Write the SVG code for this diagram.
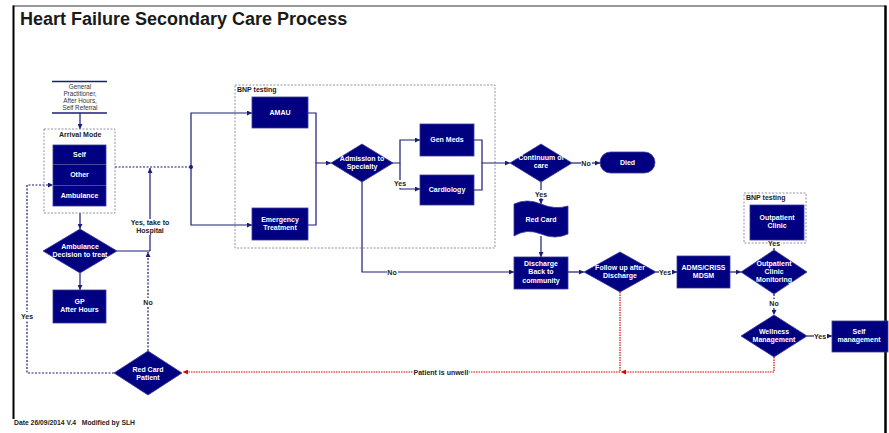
<svg xmlns="http://www.w3.org/2000/svg" width="889" height="433" viewBox="0 0 889 433">
<defs>
<marker id="ah" viewBox="0 0 10 10" refX="10" refY="5" markerWidth="5" markerHeight="5" orient="auto" markerUnits="userSpaceOnUse">
<path d="M0,0 L10,5 L0,10 z" fill="#1c1c7a"/>
</marker>
<marker id="ahr" viewBox="0 0 10 10" refX="10" refY="5" markerWidth="5" markerHeight="5" orient="auto" markerUnits="userSpaceOnUse">
<path d="M0,0 L10,5 L0,10 z" fill="#e00000"/>
</marker>
<style>
.box{fill:#000080;stroke:#3a3a9a;stroke-width:0.8}
.t{font-family:"Liberation Sans",Arial,sans-serif;font-size:7px;font-weight:bold;fill:#ffffff;text-anchor:middle}
.l{font-family:"Liberation Sans",Arial,sans-serif;font-size:7px;font-weight:bold;fill:#222222}
.lc{font-family:"Liberation Sans",Arial,sans-serif;font-size:7px;font-weight:bold;fill:#222222;text-anchor:middle}
.c{fill:none;stroke:#1c1c7a;stroke-width:1.2}
.cd{fill:none;stroke:#1c1c7a;stroke-width:1.2;stroke-dasharray:2,1.5}
.cr{fill:none;stroke:#e00000;stroke-width:1.2;stroke-dasharray:1.5,1}
.grp{fill:none;stroke:#777788;stroke-width:0.8;stroke-dasharray:2,1.5}
.bg{fill:#ffffff}
</style>
</defs>
<rect x="0" y="0" width="889" height="433" fill="#ffffff"/>
<!-- frame -->
<line x1="13" y1="6" x2="886" y2="6" stroke="#333333" stroke-width="1.2"/>
<line x1="13.5" y1="5.5" x2="13.5" y2="419" stroke="#000000" stroke-width="2"/>
<line x1="885.5" y1="5.5" x2="885.5" y2="433" stroke="#000000" stroke-width="2.5"/>
<text x="20" y="25" font-family="'Liberation Sans',Arial,sans-serif" font-size="18" font-weight="bold" fill="#1a1a1a">Heart Failure Secondary Care Process</text>
<text x="14" y="425" font-family="'Liberation Sans',Arial,sans-serif" font-size="6.8" font-weight="bold" fill="#222222" xml:space="preserve">Date 26/09/2014 V.4   Modified by SLH</text>

<!-- group containers -->
<g id="bnp-group">
<rect class="grp" x="235" y="85" width="260" height="163"/>
<text class="l" x="237" y="92">BNP testing</text>
</g>
<g id="bnp-group-2">
<rect class="grp" x="744" y="193" width="62" height="50"/>
<text class="l" x="746" y="200">BNP testing</text>
</g>

<!-- connectors -->
<g id="connectors">
<path class="c" d="M80,113 V129" marker-end="url(#ah)"/>
<path class="cd" d="M115,167 H191"/>
<path class="c" d="M191,167 V113 H252" marker-end="url(#ah)"/>
<path class="c" d="M191,167 V225 H252" marker-end="url(#ah)"/>
<circle cx="191" cy="167" r="2" fill="#1c1c7a"/>
<path class="c" d="M80,213 V229" marker-end="url(#ah)"/>
<path class="c" d="M80,273 V290" marker-end="url(#ah)"/>
<path class="c" d="M117,251 H150"/>
<path class="c" d="M150,251 V168" marker-end="url(#ah)"/>
<path class="cd" d="M148,351 V252" marker-end="url(#ah)"/>
<path class="cd" d="M114,373 H27 V185 H53" marker-end="url(#ah)"/>
<path class="c" d="M308,113 H316 V163"/>
<path class="c" d="M308,225 H316 V163 H331" marker-end="url(#ah)"/>
<path class="c" d="M392,163 H400 V140 H420" marker-end="url(#ah)"/>
<path class="c" d="M400,163 V189 H420" marker-end="url(#ah)"/>
<path class="c" d="M474,140 H482 V163"/>
<path class="c" d="M474,190 H482 V163 H510" marker-end="url(#ah)"/>
<path class="c" d="M572,163 H600" marker-end="url(#ah)"/>
<path class="c" d="M541,182 V204" marker-end="url(#ah)"/>
<path class="c" d="M541,236 V257" marker-end="url(#ah)"/>
<path class="c" d="M362,182 V272 H514" marker-end="url(#ah)"/>
<path class="c" d="M568,272 H584" marker-end="url(#ah)"/>
<path class="c" d="M656,272 H677" marker-end="url(#ah)"/>
<path class="c" d="M730,272 H741" marker-end="url(#ah)"/>
<path class="c" d="M774,250 V240" marker-end="url(#ah)"/>
<path class="cd" d="M774,294 V315" marker-end="url(#ah)"/>
<path class="c" d="M807,336 H832" marker-end="url(#ah)"/>
<path class="cr" d="M620,292 V372"/>
<path class="cr" d="M774,357 V372 H621" marker-end="url(#ahr)"/>
<path class="cr" d="M620,372 H183" marker-end="url(#ahr)"/>
<!-- connector labels -->
<rect class="bg" x="140" y="219" width="20" height="16"/>
<text class="lc" x="150" y="225">Yes, take to</text>
<text class="lc" x="150" y="233">Hospital</text>
<rect class="bg" x="143" y="298" width="11" height="8"/>
<text class="lc" x="148" y="305">No</text>
<rect class="bg" x="21" y="312" width="13" height="8"/>
<text class="lc" x="27" y="319">Yes</text>
<rect class="bg" x="394" y="180" width="13" height="8"/>
<text class="lc" x="400" y="186">Yes</text>
<rect class="bg" x="387" y="268" width="11" height="8"/>
<text class="lc" x="392" y="275">No</text>
<rect class="bg" x="581" y="159" width="11" height="8"/>
<text class="lc" x="586" y="166">No</text>
<rect class="bg" x="535" y="190" width="13" height="8"/>
<text class="lc" x="541" y="197">Yes</text>
<rect class="bg" x="659" y="268" width="13" height="8"/>
<text class="lc" x="665" y="275">Yes</text>
<rect class="bg" x="768" y="240" width="13" height="8"/>
<text class="lc" x="774" y="246">Yes</text>
<rect class="bg" x="769" y="299" width="11" height="8"/>
<text class="lc" x="774" y="306">No</text>
<rect class="bg" x="814" y="332" width="13" height="8"/>
<text class="lc" x="820" y="339">Yes</text>
<rect class="bg" x="413" y="368" width="56" height="8"/>
<text class="lc" x="441" y="375">Patient is unwell</text>
</g>

<!-- nodes -->
<g id="source">
<line x1="52" y1="81.5" x2="107" y2="81.5" stroke="#1c1c7a" stroke-width="1.5"/>
<line x1="52" y1="113" x2="107" y2="113" stroke="#1c1c7a" stroke-width="1.5"/>
<text x="80" y="89" font-family="'Liberation Sans',Arial,sans-serif" font-size="6.3" fill="#333333" text-anchor="middle">General</text>
<text x="80" y="96" font-family="'Liberation Sans',Arial,sans-serif" font-size="6.3" fill="#333333" text-anchor="middle">Practitioner,</text>
<text x="80" y="103" font-family="'Liberation Sans',Arial,sans-serif" font-size="6.3" fill="#333333" text-anchor="middle">After Hours,</text>
<text x="80" y="110" font-family="'Liberation Sans',Arial,sans-serif" font-size="6.3" fill="#333333" text-anchor="middle">Self Referral</text>
</g>
<g id="arrival-mode">
<rect class="grp" x="44" y="129" width="71" height="84" stroke="#333355"/>
<text class="l" x="59" y="137">Arrival Mode</text>
<rect class="box" x="53" y="145" width="53" height="61"/>
<line x1="53" y1="164.5" x2="106" y2="164.5" stroke="#5a5aaa" stroke-width="0.8"/>
<line x1="53" y1="185.5" x2="106" y2="185.5" stroke="#5a5aaa" stroke-width="0.8"/>
<text class="t" x="79.5" y="157">Self</text>
<text class="t" x="79.5" y="177">Other</text>
<text class="t" x="79.5" y="198">Ambulance</text>
</g>
<g id="ambulance-decision">
<polygon class="box" points="80,229 117,251 80,273 43,251"/>
<text class="t" x="80" y="249">Ambulance</text>
<text class="t" x="80" y="257">Decision to treat</text>
</g>
<g id="gp-after-hours">
<rect class="box" x="53" y="290" width="53" height="33"/>
<text class="t" x="79.5" y="304">GP</text>
<text class="t" x="79.5" y="312">After Hours</text>
</g>
<g id="red-card-patient">
<polygon class="box" points="148,351 182,373 148,395 114,373"/>
<text class="t" x="148" y="372">Red Card</text>
<text class="t" x="148" y="380">Patient</text>
</g>
<g id="amau">
<rect class="box" x="252" y="97" width="56" height="31"/>
<text class="t" x="280" y="115">AMAU</text>
</g>
<g id="emergency-treatment">
<rect class="box" x="252" y="208" width="56" height="32"/>
<text class="t" x="280" y="222">Emergency</text>
<text class="t" x="280" y="230">Treatment</text>
</g>
<g id="admission">
<polygon class="box" points="362,144 393,163 362,182 331,163"/>
<text class="t" x="362" y="161">Admission to</text>
<text class="t" x="362" y="169">Specialty</text>
</g>
<g id="gen-meds">
<rect class="box" x="420" y="124" width="54" height="32"/>
<text class="t" x="447" y="142">Gen Meds</text>
</g>
<g id="cardiology">
<rect class="box" x="420" y="175" width="54" height="30"/>
<text class="t" x="447" y="192">Cardiology</text>
</g>
<g id="continuum">
<polygon class="box" points="541,144 572,163 541,182 510,163"/>
<text class="t" x="541" y="160">Continuum of</text>
<text class="t" x="541" y="168">care</text>
</g>
<g id="died">
<rect class="box" x="600" y="152" width="55" height="21" rx="10.5"/>
<text class="t" x="627.5" y="165">Died</text>
</g>
<g id="red-card">
<path class="box" d="M514,204 Q527,198 541,204 T568,206 V234 Q555,240 541,234 T514,236 Z"/>
<text class="t" x="541" y="222">Red Card</text>
</g>
<g id="discharge">
<rect class="box" x="514" y="257" width="54" height="32"/>
<text class="t" x="541" y="266">Discharge</text>
<text class="t" x="541" y="274">Back to</text>
<text class="t" x="541" y="283">community</text>
</g>
<g id="follow-up">
<polygon class="box" points="620,252 656,272 620,292 584,272"/>
<text class="t" x="620" y="270">Follow up after</text>
<text class="t" x="620" y="278">Discharge</text>
</g>
<g id="adms">
<rect class="box" x="677" y="256" width="53" height="32"/>
<text class="t" x="703.5" y="270">ADMS/CRISS</text>
<text class="t" x="703.5" y="278">MDSM</text>
</g>
<g id="outpatient-monitoring">
<polygon class="box" points="774,250 807,272 774,294 741,272"/>
<text class="t" x="774" y="266">Outpatient</text>
<text class="t" x="774" y="274">Clinic</text>
<text class="t" x="774" y="282">Monitoring</text>
</g>
<g id="outpatient-clinic">
<rect class="box" x="750" y="205" width="54" height="35"/>
<text class="t" x="777" y="220">Outpatient</text>
<text class="t" x="777" y="228">Clinic</text>
</g>
<g id="wellness">
<polygon class="box" points="774,315 807,336 774,357 741,336"/>
<text class="t" x="774" y="334">Wellness</text>
<text class="t" x="774" y="342">Management</text>
</g>
<g id="self-management">
<rect class="box" x="832" y="321" width="56" height="31"/>
<text class="t" x="859" y="334">Self</text>
<text class="t" x="859" y="342">management</text>
</g>
</svg>
